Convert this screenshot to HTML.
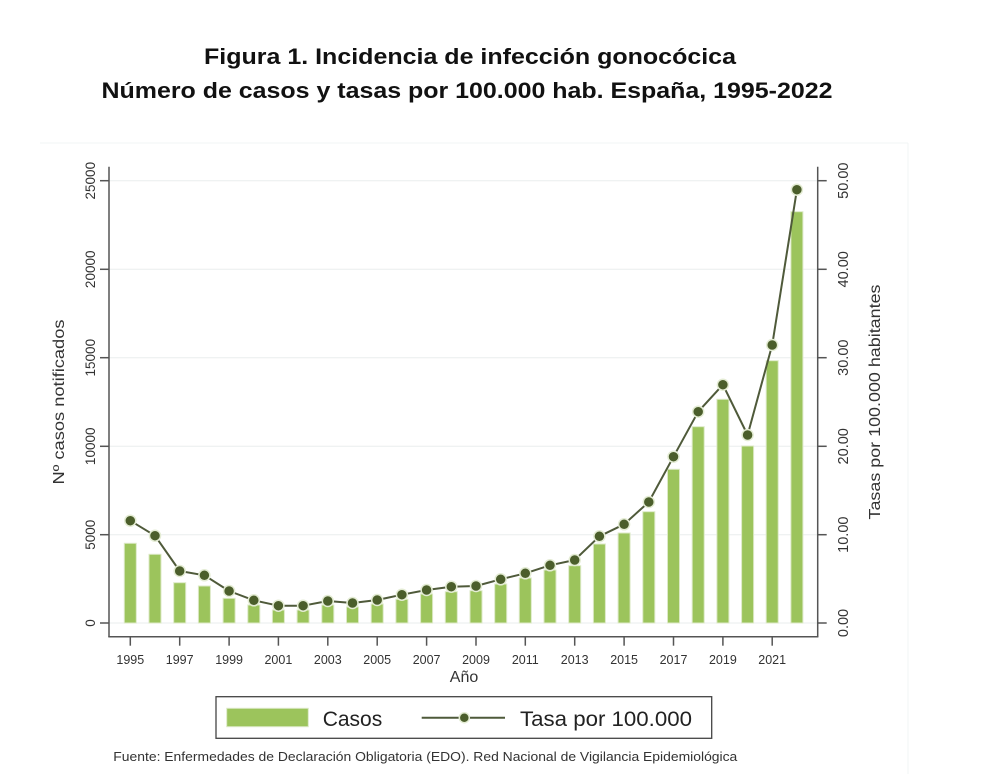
<!DOCTYPE html>
<html><head><meta charset="utf-8"><style>
html,body{margin:0;padding:0;background:#fff;}
svg{display:block;}
</style></head><body>
<svg width="1000" height="774" viewBox="0 0 1000 774" xmlns="http://www.w3.org/2000/svg" font-family="Liberation Sans, Arial, sans-serif">
<rect x="0" y="0" width="1000" height="774" fill="#fff"/>
<!-- Title -->
<text x="470" y="64" text-anchor="middle" font-size="22" font-weight="bold" fill="#111" textLength="532" lengthAdjust="spacingAndGlyphs">Figura 1. Incidencia de infección gonocócica</text>
<text x="467" y="98" text-anchor="middle" font-size="22" font-weight="bold" fill="#111" textLength="731" lengthAdjust="spacingAndGlyphs">Número de casos y tasas por 100.000 hab. España, 1995-2022</text>
<!-- faint graph region border -->
<line x1="40" y1="143" x2="908" y2="143" stroke="#f2f4f4" stroke-width="1"/>
<line x1="908" y1="143" x2="908" y2="774" stroke="#f2f4f4" stroke-width="1"/>
<!-- gridlines -->
<g stroke="#eaeeee" stroke-width="1">
<line x1="109" y1="180.7" x2="817" y2="180.7"/>
<line x1="109" y1="269.3" x2="817" y2="269.3"/>
<line x1="109" y1="357.7" x2="817" y2="357.7"/>
<line x1="109" y1="446.3" x2="817" y2="446.3"/>
<line x1="109" y1="534.7" x2="817" y2="534.7"/>
<line x1="109" y1="623" x2="817" y2="623"/>
</g>
<!-- bars -->
<g fill="#9cc45c" stroke="#dce9c6" stroke-width="1">
<rect x="124.3" y="543.3" width="12" height="79.7"/>
<rect x="149" y="554.3" width="12" height="68.7"/>
<rect x="173.7" y="582.7" width="12" height="40.3"/>
<rect x="198.4" y="586" width="12" height="37"/>
<rect x="223.1" y="598.3" width="12" height="24.7"/>
<rect x="247.8" y="605" width="12" height="18"/>
<rect x="272.4" y="610" width="12" height="13"/>
<rect x="297.1" y="610" width="12" height="13"/>
<rect x="321.8" y="605" width="12" height="18"/>
<rect x="346.5" y="607" width="12" height="16"/>
<rect x="371.2" y="604" width="12" height="19"/>
<rect x="395.9" y="599.3" width="12" height="23.7"/>
<rect x="420.6" y="594" width="12" height="29"/>
<rect x="445.3" y="591.7" width="12" height="31.3"/>
<rect x="470" y="590.7" width="12" height="32.3"/>
<rect x="494.7" y="584" width="12" height="39"/>
<rect x="519.3" y="578" width="12" height="45"/>
<rect x="544" y="570" width="12" height="53"/>
<rect x="568.7" y="565.7" width="12" height="57.3"/>
<rect x="593.4" y="544" width="12" height="79"/>
<rect x="618.1" y="533" width="12" height="90"/>
<rect x="642.8" y="511.7" width="12" height="111.3"/>
<rect x="667.5" y="469.3" width="12" height="153.7"/>
<rect x="692.2" y="426.7" width="12" height="196.3"/>
<rect x="716.9" y="399.3" width="12" height="223.7"/>
<rect x="741.6" y="446" width="12" height="177"/>
<rect x="766.2" y="360.7" width="12" height="262.3"/>
<rect x="790.9" y="211.7" width="12" height="411.3"/>
</g>
<!-- line -->
<polyline fill="none" stroke="#4f5a3a" stroke-width="2" stroke-linejoin="round" points="130.3,520.7 155,535.7 179.7,571 204.4,575.3 229.1,591 253.8,600.3 278.4,605.7 303.1,605.7 327.8,601 352.5,603 377.2,600 401.9,594.7 426.6,590 451.3,586.7 476,586 500.7,579.3 525.3,573.3 550,565.3 574.7,560 599.4,536.3 624.1,524.3 648.8,502 673.5,456.7 698.2,411.7 722.9,384.7 747.6,435 772.2,345 796.9,189.7"/>
<g fill="#4b5e2b" stroke="#e4ecd4" stroke-width="1.5">
<circle cx="130.3" cy="520.7" r="5.5"/><circle cx="155" cy="535.7" r="5.5"/><circle cx="179.7" cy="571" r="5.5"/><circle cx="204.4" cy="575.3" r="5.5"/><circle cx="229.1" cy="591" r="5.5"/><circle cx="253.8" cy="600.3" r="5.5"/><circle cx="278.4" cy="605.7" r="5.5"/><circle cx="303.1" cy="605.7" r="5.5"/><circle cx="327.8" cy="601" r="5.5"/><circle cx="352.5" cy="603" r="5.5"/><circle cx="377.2" cy="600" r="5.5"/><circle cx="401.9" cy="594.7" r="5.5"/><circle cx="426.6" cy="590" r="5.5"/><circle cx="451.3" cy="586.7" r="5.5"/><circle cx="476" cy="586" r="5.5"/><circle cx="500.7" cy="579.3" r="5.5"/><circle cx="525.3" cy="573.3" r="5.5"/><circle cx="550" cy="565.3" r="5.5"/><circle cx="574.7" cy="560" r="5.5"/><circle cx="599.4" cy="536.3" r="5.5"/><circle cx="624.1" cy="524.3" r="5.5"/><circle cx="648.8" cy="502" r="5.5"/><circle cx="673.5" cy="456.7" r="5.5"/><circle cx="698.2" cy="411.7" r="5.5"/><circle cx="722.9" cy="384.7" r="5.5"/><circle cx="747.6" cy="435" r="5.5"/><circle cx="772.2" cy="345" r="5.5"/><circle cx="796.9" cy="189.7" r="5.5"/>
</g>
<!-- axes -->
<g stroke="#555" stroke-width="1.5" fill="none">
<line x1="109" y1="166.7" x2="109" y2="637"/>
<line x1="817.7" y1="166.7" x2="817.7" y2="637"/>
<line x1="108.3" y1="636.7" x2="818.4" y2="636.7"/>
<!-- left ticks -->
<line x1="100" y1="180.7" x2="109" y2="180.7"/>
<line x1="100" y1="269.3" x2="109" y2="269.3"/>
<line x1="100" y1="357.7" x2="109" y2="357.7"/>
<line x1="100" y1="446.3" x2="109" y2="446.3"/>
<line x1="100" y1="534.7" x2="109" y2="534.7"/>
<line x1="100" y1="623" x2="109" y2="623"/>
<!-- right ticks -->
<line x1="817.7" y1="180.7" x2="826.7" y2="180.7"/>
<line x1="817.7" y1="269.3" x2="826.7" y2="269.3"/>
<line x1="817.7" y1="357.7" x2="826.7" y2="357.7"/>
<line x1="817.7" y1="446.3" x2="826.7" y2="446.3"/>
<line x1="817.7" y1="534.7" x2="826.7" y2="534.7"/>
<line x1="817.7" y1="623" x2="826.7" y2="623"/>
<!-- bottom ticks -->
<line x1="130.3" y1="636.7" x2="130.3" y2="645.7"/>
<line x1="179.7" y1="636.7" x2="179.7" y2="645.7"/>
<line x1="229.1" y1="636.7" x2="229.1" y2="645.7"/>
<line x1="278.4" y1="636.7" x2="278.4" y2="645.7"/>
<line x1="327.8" y1="636.7" x2="327.8" y2="645.7"/>
<line x1="377.2" y1="636.7" x2="377.2" y2="645.7"/>
<line x1="426.6" y1="636.7" x2="426.6" y2="645.7"/>
<line x1="476" y1="636.7" x2="476" y2="645.7"/>
<line x1="525.3" y1="636.7" x2="525.3" y2="645.7"/>
<line x1="574.7" y1="636.7" x2="574.7" y2="645.7"/>
<line x1="624.1" y1="636.7" x2="624.1" y2="645.7"/>
<line x1="673.5" y1="636.7" x2="673.5" y2="645.7"/>
<line x1="722.9" y1="636.7" x2="722.9" y2="645.7"/>
<line x1="772.2" y1="636.7" x2="772.2" y2="645.7"/>
</g>
<!-- left tick labels -->
<g font-size="13.5" fill="#333" text-anchor="middle">
<text transform="translate(95,180.7) rotate(-90)">25000</text>
<text transform="translate(95,269.3) rotate(-90)">20000</text>
<text transform="translate(95,357.7) rotate(-90)">15000</text>
<text transform="translate(95,446.3) rotate(-90)">10000</text>
<text transform="translate(95,534.7) rotate(-90)">5000</text>
<text transform="translate(95,623) rotate(-90)">0</text>
</g>
<!-- right tick labels -->
<g font-size="14.5" fill="#333" text-anchor="middle">
<text transform="translate(848,180.7) rotate(-90)">50.00</text>
<text transform="translate(848,269.3) rotate(-90)">40.00</text>
<text transform="translate(848,357.7) rotate(-90)">30.00</text>
<text transform="translate(848,446.3) rotate(-90)">20.00</text>
<text transform="translate(848,534.7) rotate(-90)">10.00</text>
<text transform="translate(848,623) rotate(-90)">0.00</text>
</g>
<!-- bottom tick labels -->
<g font-size="12.5" fill="#333" text-anchor="middle">
<text x="130.3" y="664">1995</text>
<text x="179.7" y="664">1997</text>
<text x="229.1" y="664">1999</text>
<text x="278.4" y="664">2001</text>
<text x="327.8" y="664">2003</text>
<text x="377.2" y="664">2005</text>
<text x="426.6" y="664">2007</text>
<text x="476" y="664">2009</text>
<text x="525.3" y="664">2011</text>
<text x="574.7" y="664">2013</text>
<text x="624.1" y="664">2015</text>
<text x="673.5" y="664">2017</text>
<text x="722.9" y="664">2019</text>
<text x="772.2" y="664">2021</text>
</g>
<!-- axis titles -->
<text x="464" y="682" font-size="16" fill="#333" text-anchor="middle">Año</text>
<text transform="translate(64,402) rotate(-90)" font-size="15.5" fill="#333" text-anchor="middle" textLength="165" lengthAdjust="spacingAndGlyphs">Nº casos notificados</text>
<text transform="translate(880,402) rotate(-90)" font-size="15.5" fill="#333" text-anchor="middle" textLength="235" lengthAdjust="spacingAndGlyphs">Tasas por 100.000 habitantes</text>
<!-- legend -->
<rect x="216" y="696.7" width="495.7" height="41.6" fill="#fff" stroke="#444" stroke-width="1.3"/>
<rect x="226.7" y="708.3" width="81.6" height="18.4" fill="#9cc45c" stroke="#dce9c6" stroke-width="1"/>
<text x="322.7" y="726" font-size="21" fill="#222">Casos</text>
<line x1="421.7" y1="717.7" x2="505" y2="717.7" stroke="#4f5a3a" stroke-width="2"/>
<circle cx="464.3" cy="717.7" r="5" fill="#4b5e2b" stroke="#e4ecd4" stroke-width="1.5"/>
<text x="520" y="726" font-size="21" fill="#222" textLength="172" lengthAdjust="spacingAndGlyphs">Tasa por 100.000</text>
<!-- source -->
<text x="113.3" y="761" font-size="12.5" fill="#333" textLength="624" lengthAdjust="spacingAndGlyphs">Fuente: Enfermedades de Declaración Obligatoria (EDO). Red Nacional de Vigilancia Epidemiológica</text>
</svg>
</body></html>
